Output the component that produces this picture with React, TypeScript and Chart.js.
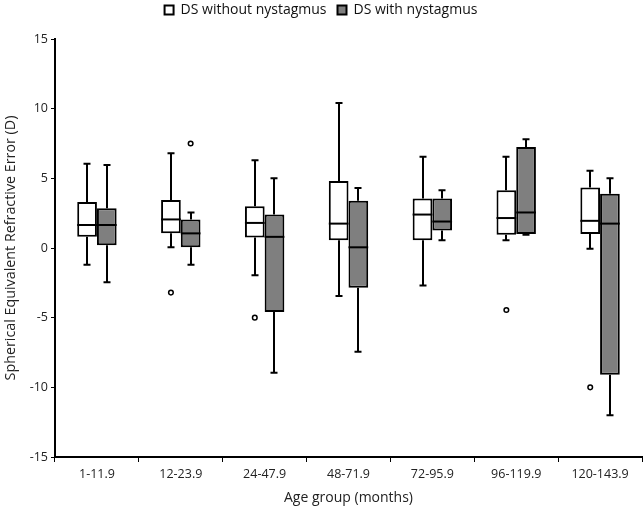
import React, { useEffect, useRef } from "react";
import { Chart, registerables } from "chart.js";

Chart.register(...registerables);

const categories = ["1-11.9", "12-23.9", "24-47.9", "48-71.9", "72-95.9", "96-119.9", "120-143.9"];

const withoutMin = [-1.2, 0.05, -1.95, -3.45, -2.7, 0.55, -0.05];
const withoutQ1 = [0.8, 1.05, 0.75, 0.55, 0.55, 0.95, 1.0];
const withoutMedian = [1.65, 2.05, 1.8, 1.75, 2.4, 2.15, 1.95];
const withoutQ3 = [3.3, 3.45, 3.0, 4.8, 3.55, 4.15, 4.35];
const withoutMax = [6.05, 6.8, 6.3, 10.4, 6.55, 6.55, 5.55];
const withoutOutliers = [[], [-3.2], [-5.0], [], [], [-4.45], [-10.0]];

const withMin = [-2.45, -1.2, -8.95, -7.45, 0.55, 0.95, -12.0];
const withQ1 = [0.2, 0.05, -4.6, -2.85, 1.25, 1.0, -9.1];
const withMedian = [1.65, 1.05, 0.8, 0.05, 1.9, 2.55, 1.75];
const withQ3 = [2.85, 2.05, 2.4, 3.4, 3.55, 7.25, 3.9];
const withMax = [5.95, 2.55, 5.0, 4.3, 4.15, 7.8, 5.0];
const withOutliers = [[], [7.5], [], [], [], [], []];

const yTicks = [-15, -10, -5, 0, 5, 10, 15];

const FONT = "'Open Sans', 'DejaVu Sans', sans-serif";

const stats = [
  { min: withoutMin, q1: withoutQ1, med: withoutMedian, q3: withoutQ3, max: withoutMax, out: withoutOutliers },
  { min: withMin, q1: withQ1, med: withMedian, q3: withQ3, max: withMax, out: withOutliers },
];

const legendHeightPlugin = {
  id: "legendHeight",
  beforeLayout(chart: any) {
    const lg = chart.legend;
    if (lg && !lg._patched) {
      const f = lg.fit.bind(lg);
      lg.fit = function () {
        f();
        this.height = 47;
      };
      lg._patched = true;
    }
  },
};

const boxPlugin = {
  id: "boxWhiskers",
  beforeDatasetsDraw(chart: any) {
    const ctx = chart.ctx;
    const y = chart.scales.y;
    ctx.save();
    ctx.strokeStyle = "#000";
    ctx.lineWidth = 2;
    stats.forEach((s, di) => {
      const meta = chart.getDatasetMeta(di);
      meta.data.forEach((bar: any, i: number) => {
        const x = Math.round(bar.x);
        const cap = 3.5;
        const yMax = y.getPixelForValue(s.max[i]);
        const yQ3 = y.getPixelForValue(s.q3[i]);
        const yQ1 = y.getPixelForValue(s.q1[i]);
        const yMin = y.getPixelForValue(s.min[i]);
        ctx.beginPath();
        ctx.moveTo(x, yQ3);
        ctx.lineTo(x, yMax);
        ctx.moveTo(x - cap, yMax);
        ctx.lineTo(x + cap, yMax);
        ctx.moveTo(x, yQ1);
        ctx.lineTo(x, yMin);
        ctx.moveTo(x - cap, yMin);
        ctx.lineTo(x + cap, yMin);
        ctx.stroke();
      });
    });
    ctx.restore();
  },
  afterDatasetsDraw(chart: any) {
    const ctx = chart.ctx;
    const y = chart.scales.y;
    ctx.save();
    stats.forEach((s, di) => {
      const meta = chart.getDatasetMeta(di);
      meta.data.forEach((bar: any, i: number) => {
        const x = bar.x;
        const half = bar.width / 2;
        const yMed = y.getPixelForValue(s.med[i]);
        ctx.strokeStyle = "#000";
        ctx.lineWidth = 2;
        ctx.beginPath();
        ctx.moveTo(x - half, yMed);
        ctx.lineTo(x + half, yMed);
        ctx.stroke();
        s.out[i].forEach((v: number) => {
          const yo = y.getPixelForValue(v);
          ctx.beginPath();
          ctx.arc(x, yo, 2.3, 0, Math.PI * 2);
          ctx.fillStyle = "#fff";
          ctx.fill();
          ctx.lineWidth = 1.5;
          ctx.stroke();
        });
      });
    });
    ctx.restore();
  },
};

export default function App() {
  const ref = useRef<HTMLCanvasElement>(null);
  useEffect(() => {
    if (!ref.current) return;
    const chart = new Chart(ref.current, {
      type: "bar",
      data: {
        labels: categories,
        datasets: [
          {
            label: "DS without nystagmus",
            data: withoutQ1.map((q, i) => [q, withoutQ3[i]]) as any,
            backgroundColor: "#ffffff",
            borderColor: "#000000",
            borderWidth: 2,
            borderSkipped: false,
          },
          {
            label: "DS with nystagmus",
            data: withQ1.map((q, i) => [q, withQ3[i]]) as any,
            backgroundColor: "#7f7f7f",
            borderColor: "#000000",
            borderWidth: 2,
            borderSkipped: false,
          },
        ],
      },
      options: {
        animation: false,
        responsive: true,
        maintainAspectRatio: false,
        datasets: { bar: { categoryPercentage: 0.47, barPercentage: 1.0 } },
        layout: { padding: { top: -8, right: 1, left: 0, bottom: 0 } },
        plugins: {
          legend: {
            display: true,
            position: "top",
            labels: {
              boxWidth: 9,
              boxHeight: 9,
              padding: 11,
              color: "#111",
              font: { family: FONT, size: 14 },
            },
          },
          tooltip: { enabled: false },
        },
        scales: {
          x: {
            grid: { display: true, drawOnChartArea: false, drawTicks: true, tickLength: 5, color: "#000", offset: true },
            border: { display: true, color: "#000", width: 2 },
            ticks: { color: "#222", font: { family: FONT, size: 12.5 }, padding: 5, maxRotation: 0 },
            title: { display: true, text: "Age group (months)", color: "#222", font: { family: FONT, size: 14 }, padding: { top: 5 } },
            afterFit: (s: any) => { s.height = 53; },
          },
          y: {
            min: -15,
            max: 15,
            afterBuildTicks: (s: any) => { s.ticks = yTicks.map((v) => ({ value: v })); },
            grid: { display: true, drawOnChartArea: false, drawTicks: true, tickLength: 4, color: "#000" },
            border: { display: true, color: "#000", width: 2 },
            ticks: { color: "#222", font: { family: FONT, size: 12.5 }, padding: 3 },
            title: { display: true, text: "Spherical Equivalent Refractive Error (D)", color: "#222", font: { family: FONT, size: 14.3 }, padding: { top: 2, bottom: 2 } },
            afterFit: (s: any) => { s.width = 55; },
          },
        },
      },
      plugins: [legendHeightPlugin, boxPlugin],
    });
    return () => chart.destroy();
  }, []);
  return (
    <div style={{ position: "fixed", left: 0, top: 0, width: 643, height: 510, background: "#fff" }}>
      <canvas ref={ref} />
    </div>
  );
}
